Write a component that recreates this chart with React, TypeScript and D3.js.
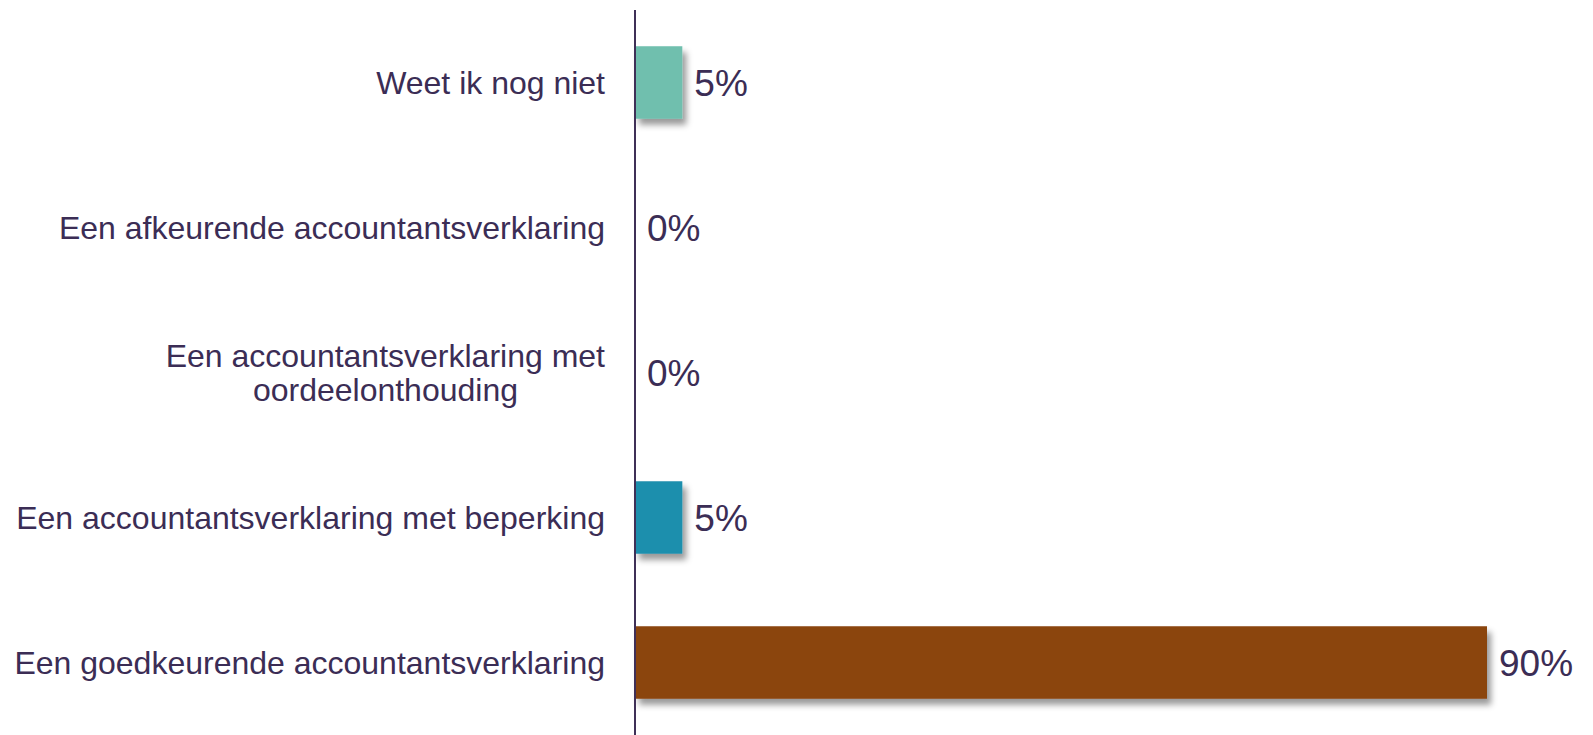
import * as d3 from "d3";

const categories = [
  "Weet ik nog niet",
  "Een afkeurende accountantsverklaring",
  "Een accountantsverklaring met\noordeelonthouding",
  "Een accountantsverklaring met beperking",
  "Een goedkeurende accountantsverklaring",
];
const values = [5, 0, 0, 5, 90];
const valueLabels = ["5%", "0%", "0%", "5%", "90%"];
const barColors = ["#6fbfae", "#6fbfae", "#6fbfae", "#1f8fad", "#8b440b"];

const W = 1593,
  H = 735;
const axisX = 635;
const textColor = "#3b2d55";

const y = d3.scaleBand<string>().domain(categories).range([10, 735]).paddingInner(0.5).paddingOuter(0.25);
const x = d3.scaleLinear().domain([0, 90]).range([axisX, axisX + 852]);

export default function App() {
  return (
    <svg
      width={W}
      height={H}
      style={{ position: "absolute", left: 0, top: 0, fontFamily: "'Liberation Sans', Arial, sans-serif" }}
    >
      <defs>
        <filter id="shadow" x="-20%" y="-20%" width="150%" height="160%">
          <feDropShadow dx="4" dy="6" stdDeviation="3" floodColor="#000" floodOpacity="0.4" />
        </filter>
      </defs>
      {categories.map((c, i) => {
        const yc = y(c)! + y.bandwidth() / 2;
        const lines = c.split("\n");
        const lh = 34;
        return (
          <g key={c}>
            {values[i] > 0 && (
              <rect
                x={x(0)}
                y={y(c)}
                width={x(values[i]) - x(0)}
                height={y.bandwidth()}
                fill={barColors[i]}
                filter="url(#shadow)"
              />
            )}
            <text
              x={axisX - 30}
              y={yc - ((lines.length - 1) * lh) / 2}
              textAnchor="end"
              dominantBaseline="central"
              fontSize={32}
              fill={textColor}
            >
              {lines.map((l, k) => (
                <tspan key={k} x={lines.length > 1 && k === 1 ? axisX - 30 - 87 : axisX - 30} dy={k === 0 ? 0 : lh}>
                  {l}
                </tspan>
              ))}
            </text>
            <text
              x={x(values[i]) + 12}
              y={yc + 1}
              dominantBaseline="central"
              fontSize={37}
              fill={textColor}
            >
              {valueLabels[i]}
            </text>
          </g>
        );
      })}
      <line x1={axisX} x2={axisX} y1={10} y2={735} stroke="#3f3057" strokeWidth={2} />
    </svg>
  );
}
